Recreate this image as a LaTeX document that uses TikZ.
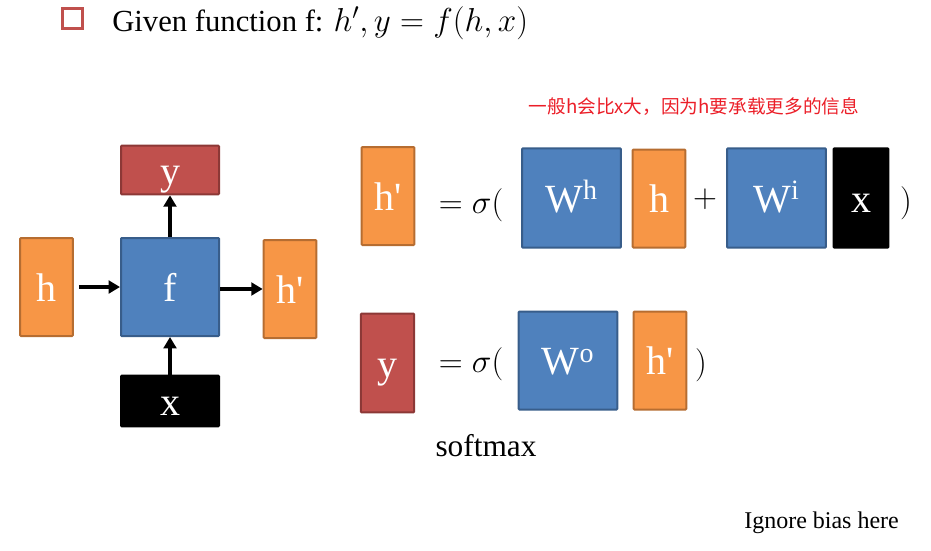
\documentclass[tikz,border=0pt]{standalone}
\usepackage{fontspec}
\setmainfont{Liberation Serif}
\newfontfamily\cjk{Noto Sans CJK SC}
\usetikzlibrary{arrows.meta,positioning}
\definecolor{cellOrange}{RGB}{247,150,70}
\definecolor{cellOrangeLine}{RGB}{182,109,49}
\definecolor{cellBlue}{RGB}{79,129,189}
\definecolor{cellBlueLine}{RGB}{56,93,138}
\definecolor{cellRed}{RGB}{192,80,77}
\definecolor{cellRedLine}{RGB}{140,56,54}
\definecolor{noteRed}{RGB}{235,30,40}
\tikzset{
  cell/.style={draw, line width=1.5pt, rounded corners=0.6pt, inner sep=0pt,
    text=white, text height=21pt, text depth=0pt, font=\fontsize{30}{36}\selectfont},
  hcell/.style={cell, fill=cellOrange, draw=cellOrangeLine, minimum width=39.5pt, minimum height=73.5pt},
  wcell/.style={cell, fill=cellBlue, draw=cellBlueLine, minimum width=73.5pt, minimum height=73.5pt},
  ycell/.style={cell, fill=cellRed, draw=cellRedLine},
  xcell/.style={cell, fill=black, draw=black},
  flow/.style={line width=2.6pt, -{Triangle[length=8.5pt,width=9.5pt]}},
  eqtext/.style={anchor=base, inner sep=0pt, font=\fontsize{27}{32}\selectfont},
}
\begin{document}
\begin{tikzpicture}[x=0.75pt,y=-0.75pt]
  \useasboundingbox (0,0) rectangle (931,550);
  % Title
  \node[draw=cellRed, line width=2.25pt, minimum size=15pt, inner sep=0pt] (mark) at (72,18.5) {};
  \node[anchor=base west, inner sep=0pt, font=\fontsize{23}{28}\selectfont] (title) at (112,31.5)
    {Given function f: $h', y = f(h,x)$};
  \node[text=noteRed, font=\cjk\fontsize{14}{16}\selectfont] (note) at (694,107)
    {一般h会比x大，因为h要承载更多的信息};
  % Left: the cell
  \node[wcell] (f) at (170,287) {f};
  \node[ycell, minimum width=73.5pt, minimum height=36.5pt] (yout) at (170,170) {y};
  \node[hcell] (hin) at (46.5,287) {h};
  \node[hcell] (hout) at (290,289) {h\textquotesingle};
  \node[xcell, minimum width=73.5pt, minimum height=38pt] (xin) at (170,401) {x};
  \draw[flow, shorten <=3.75pt] (hin.east) -- (f.west);
  \draw[flow] (f.east |- hout) -- (hout.west);
  \draw[flow] (f.north) -- (yout.south);
  \draw[flow] (xin.north) -- (f.south);
  % Top: h' = sigma(W^h h + W^i x)
  \node[hcell] (hnew) at (388,196) {h\textquotesingle};
  \node[eqtext] (eqa) at (471,213) {$=\sigma($};
  \node[wcell, minimum width=74pt, minimum height=74.5pt] (wh) at (571.5,198) {W\textsuperscript{h}};
  \node[hcell] (hold) at (659,198.5) {h};
  \node[eqtext] (plus) at (705,207) {$+$};
  \node[wcell, minimum width=74pt, minimum height=74.5pt] (wi) at (776.5,198) {W\textsuperscript{i}};
  \node[xcell, minimum width=41pt, minimum height=74.5pt] (xnew) at (861,198) {x};
  \node[eqtext] (closea) at (906,211) {$)$};
  % Bottom: y = sigma(W^o h')
  \node[ycell, minimum width=40pt, minimum height=74pt] (ynew) at (387.5,363) {y};
  \node[eqtext] (eqb) at (471,372) {$=\sigma($};
  \node[wcell, minimum width=74pt, minimum height=73.5pt] (wo) at (568,360.5) {W\textsuperscript{o}};
  \node[hcell] (hnext) at (660,360.5) {h\textquotesingle};
  \node[eqtext] (closeb) at (701,373) {$)$};
  \node[anchor=base, inner sep=0pt, font=\fontsize{23.5}{28}\selectfont] (soft) at (486,456) {softmax};
  \node[anchor=base west, inner sep=0pt, font=\fontsize{18}{22}\selectfont] (bias) at (744,528) {Ignore bias here};
\end{tikzpicture}
\end{document}
